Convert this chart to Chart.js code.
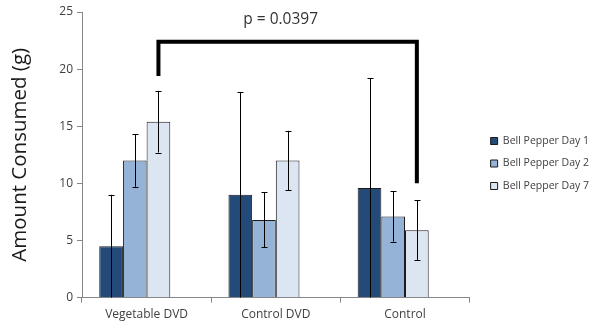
<!DOCTYPE html>
<html>
<head>
<meta charset="utf-8">
<script src="https://cdn.jsdelivr.net/npm/chart.js@4"></script>
<style>
  html, body { margin: 0; padding: 0; background: #fff; }
  #wrap { width: 600px; height: 330px; }
</style>
</head>
<body>
<div id="wrap"><canvas id="bell-pepper-chart"></canvas></div>
<script>
const categories = ['Vegetable DVD', 'Control DVD', 'Control'];
const seriesLabels = ['Bell Pepper Day 1', 'Bell Pepper Day 2', 'Bell Pepper Day 7'];
const seriesColors = ['#234a78', '#95b3d7', '#dce6f2'];

const day1Values = [4.5, 9.0, 9.6];
const day1Errors = [4.5, 9.0, 9.6];
const day2Values = [12.0, 6.8, 7.1];
const day2Errors = [2.3, 2.4, 2.2];
const day7Values = [15.4, 12.0, 5.9];
const day7Errors = [2.7, 2.6, 2.6];

const yTicks = [0, 5, 10, 15, 20, 25];

// significance bracket between Vegetable DVD day 7 and Control day 7
const bracketCategories = [0, 2];
const bracketTopValue = 22.4;
const bracketLegValues = [19.4, 10.0];
const pLabel = 'p = 0.0397';
const pLabelValue = 24.3;

const allErrors = [day1Errors, day2Errors, day7Errors];
const fontFamily = '"Open Sans", Lato, sans-serif';

const errorBarsPlugin = {
  id: 'errorBars',
  afterDatasetsDraw(chart) {
    const ctx = chart.ctx;
    const yScale = chart.scales.y;
    ctx.save();
    ctx.strokeStyle = '#000';
    ctx.lineWidth = 1;
    allErrors.forEach((errors, di) => {
      const meta = chart.getDatasetMeta(di);
      meta.data.forEach((bar, i) => {
        const value = chart.data.datasets[di].data[i];
        const top = yScale.getPixelForValue(value + errors[i]);
        const bottom = yScale.getPixelForValue(Math.max(0, value - errors[i]));
        const x = Math.round(bar.x) + 0.5;
        ctx.beginPath();
        ctx.moveTo(x, top);
        ctx.lineTo(x, bottom);
        ctx.moveTo(x - 3, Math.round(top) + 0.5);
        ctx.lineTo(x + 3, Math.round(top) + 0.5);
        if (value - errors[i] > 0) {
          ctx.moveTo(x - 3, Math.round(bottom) + 0.5);
          ctx.lineTo(x + 3, Math.round(bottom) + 0.5);
        }
        ctx.stroke();
      });
    });
    ctx.restore();
  }
};

const bracketPlugin = {
  id: 'bracket',
  afterDatasetsDraw(chart) {
    const ctx = chart.ctx;
    const yScale = chart.scales.y;
    const meta = chart.getDatasetMeta(2);
    const x1 = meta.data[bracketCategories[0]].x;
    const x2 = meta.data[bracketCategories[1]].x;
    const yTop = yScale.getPixelForValue(bracketTopValue);
    ctx.save();
    ctx.strokeStyle = '#000';
    ctx.lineWidth = 4;
    ctx.lineJoin = 'miter';
    ctx.beginPath();
    ctx.moveTo(x1, yScale.getPixelForValue(bracketLegValues[0]));
    ctx.lineTo(x1, yTop);
    ctx.lineTo(x2, yTop);
    ctx.lineTo(x2, yScale.getPixelForValue(bracketLegValues[1]));
    ctx.stroke();
    ctx.fillStyle = '#333';
    ctx.font = '15.5px ' + fontFamily;
    ctx.textAlign = 'center';
    ctx.textBaseline = 'middle';
    ctx.fillText(pLabel, (x1 + x2) / 2 - 7, yScale.getPixelForValue(pLabelValue));
    ctx.restore();
  }
};

// nudge the legend a little away from the plot, as in the original
const legendGapPlugin = {
  id: 'legendGap',
  afterLayout(chart) {
    chart.legend.left += 9;
    chart.legend.right += 9;
    chart.legend.top -= 6;
    chart.legend.bottom -= 6;
  }
};

const datasets = [day1Values, day2Values, day7Values].map((values, i) => ({
  label: seriesLabels[i],
  data: values,
  backgroundColor: seriesColors[i],
  borderColor: '#1a1a1a',
  borderWidth: 1,
  categoryPercentage: 0.733,
  barPercentage: 1.0,
}));
// empty fourth slot, kept so the groups sit left of centre like the original
datasets.push({
  label: '',
  data: categories.map(() => null),
  backgroundColor: 'rgba(0,0,0,0)',
  categoryPercentage: 0.733,
  barPercentage: 1.0,
});

new Chart(document.getElementById('bell-pepper-chart').getContext('2d'), {
  type: 'bar',
  data: { labels: categories, datasets },
  options: {
    responsive: true,
    maintainAspectRatio: false,
    animation: false,
    layout: { padding: { top: 12, left: 0, right: 10, bottom: 3 } },
    plugins: {
      legend: {
        position: 'right',
        labels: {
          filter: (item) => item.text !== '',
          boxWidth: 7,
          boxHeight: 7,
          padding: 12,
          color: '#404040',
          font: { family: fontFamily, size: 10.5 },
        },
      },
      tooltip: { enabled: false },
    },
    scales: {
      x: {
        grid: { display: true, offset: true, drawOnChartArea: false, tickLength: 5, color: '#868686' },
        border: { color: '#868686' },
        ticks: { color: '#404040', font: { family: fontFamily, size: 12 }, padding: 5 },
      },
      y: {
        min: 0,
        max: 25,
        afterBuildTicks: (axis) => { axis.ticks = yTicks.map((v) => ({ value: v })); },
        grid: { display: true, drawOnChartArea: false, tickLength: 5, color: '#868686' },
        border: { color: '#868686' },
        ticks: { color: '#404040', font: { family: fontFamily, size: 12 }, padding: 4 },
        title: { display: true, text: 'Amount Consumed (g)', color: '#1a1a1a', font: { family: fontFamily, size: 20.5 }, padding: { top: 8, bottom: 0 } },
        afterFit: (axis) => { axis.width = 82; },
      },
    },
  },
  plugins: [errorBarsPlugin, bracketPlugin, legendGapPlugin],
});
</script>
</body>
</html>
